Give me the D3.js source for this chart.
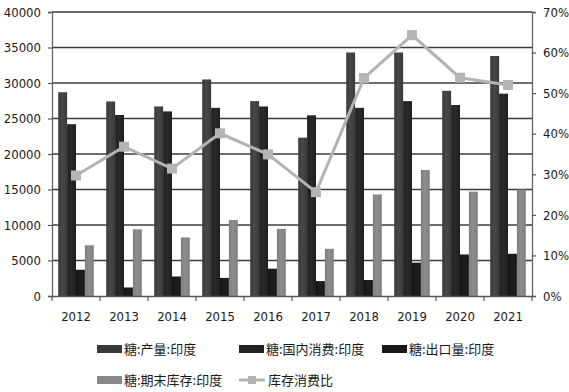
<!DOCTYPE html>
<html><head><meta charset="utf-8">
<script src="https://cdn.jsdelivr.net/npm/d3@7"></script>
<style>
html,body{margin:0;padding:0;background:#fff;}
svg{display:block;}
</style></head>
<body>
<svg id="c" width="569" height="392"></svg>
<script>
const years = ["2012","2013","2014","2015","2016","2017","2018","2019","2020","2021"];
const production = [28700,27400,26700,30500,27450,22300,34300,34300,28900,33800];
const domestic   = [24200,25500,26000,26500,26700,25450,26500,27450,26900,28500];
const exportsV   = [3700,1200,2750,2550,3850,2100,2250,4700,5850,5950];
const stocks     = [7150,9400,8250,10700,9450,6650,14300,17750,14700,15000];
const ratio      = [0.297,0.368,0.314,0.401,0.349,0.256,0.537,0.643,0.538,0.520];
const leftTicks  = [0,5000,10000,15000,20000,25000,30000,35000,40000];
const rightTicks = [0,0.1,0.2,0.3,0.4,0.5,0.6,0.7];
const seriesNames = ["糖:产量:印度","糖:国内消费:印度","糖:出口量:印度","糖:期末库存:印度","库存消费比"];

const svg = d3.select("#c");
const L = 52, R = 532, T = 12, B = 296;
const numFont = "'DejaVu Sans Condensed','Liberation Sans Narrow',sans-serif";
const cjkFont = "'Noto Sans CJK SC',sans-serif";

const defs = svg.append("defs");
function grad(id, c1, c2){
  const g = defs.append("linearGradient").attr("id",id).attr("x1","0").attr("x2","1").attr("y1","0").attr("y2","0");
  g.append("stop").attr("offset","0").attr("stop-color",c1);
  g.append("stop").attr("offset","0.45").attr("stop-color",c2);
  g.append("stop").attr("offset","1").attr("stop-color",c1);
}
grad("gP","#3a3a3a","#474747");
grad("gD","#1e1e1e","#2a2a2a");
grad("gE","#151515","#1f1f1f");
grad("gS","#7e7e7e","#8e8e8e");

const x = d3.scaleBand().domain(years).range([L,R]);
const x1 = d3.scaleBand().domain([0,1,2,3]).range([0, x.bandwidth()]).paddingOuter(0.7);
const y = d3.scaleLinear().domain([0,40000]).range([B,T]);
const y2 = d3.scaleLinear().domain([0,0.7]).range([B,T]);

// gridlines
svg.append("g").selectAll("line").data(leftTicks.filter(d=>d>0)).join("line")
  .attr("x1",L).attr("x2",R).attr("y1",d=>y(d)).attr("y2",d=>y(d))
  .attr("stroke","#3c3c3c").attr("stroke-width",1.3);

// bars
const series = [production, domestic, exportsV, stocks];
const fills = ["url(#gP)","url(#gD)","url(#gE)","url(#gS)"];
series.forEach((arr,si)=>{
  svg.append("g").selectAll("rect").data(arr).join("rect")
    .attr("x",(d,i)=>x(years[i])+x1(si))
    .attr("width",x1.bandwidth())
    .attr("y",d=>y(d))
    .attr("height",d=>B-y(d))
    .attr("fill",fills[si]);
});

// axes
const axL = svg.append("g").attr("transform",`translate(${L},0)`)
  .call(d3.axisLeft(y).tickValues(leftTicks).tickFormat(d3.format("d")).tickSize(4).tickPadding(7));
const axR = svg.append("g").attr("transform",`translate(${R},0)`)
  .call(d3.axisRight(y2).tickValues(rightTicks).tickFormat(d3.format(".0%")).tickSize(4).tickPadding(7));
const axB = svg.append("g").attr("transform",`translate(0,${B})`)
  .call(d3.axisBottom(x).tickSize(0).tickPadding(16));
// category boundary ticks
svg.append("g").selectAll("line").data(d3.range(years.length+1)).join("line")
  .attr("x1",i=>L+i*x.step()).attr("x2",i=>L+i*x.step())
  .attr("y1",B).attr("y2",B+5).attr("stroke","#555").attr("stroke-width",1.2);
[axL,axR,axB].forEach(a=>{
  a.selectAll(".domain").attr("stroke","#666").attr("stroke-width",1.3);
  a.selectAll(".tick line").attr("stroke","#555").attr("stroke-width",1.2);
  a.selectAll("text").attr("font-family",numFont).attr("font-size",13).attr("fill","#1a1a1a");
});
axB.select(".domain").attr("stroke","#555");

// line
const line = d3.line().x((d,i)=>x(years[i])+x.bandwidth()/2).y(d=>y2(d));
svg.append("path").datum(ratio).attr("d",line).attr("fill","none")
  .attr("stroke","#b3b3b3").attr("stroke-width",3);
svg.append("g").selectAll("rect").data(ratio).join("rect")
  .attr("x",(d,i)=>x(years[i])+x.bandwidth()/2-5).attr("y",d=>y2(d)-5)
  .attr("width",10).attr("height",10).attr("fill","#b5b5b5");

// legend
const legendItems = [
  {name:seriesNames[0], fill:"#3a3a3a", type:"bar", x:97, y:349},
  {name:seriesNames[1], fill:"#222", type:"bar", x:239, y:349},
  {name:seriesNames[2], fill:"#181818", type:"bar", x:382, y:349},
  {name:seriesNames[3], fill:"#888", type:"bar", x:97, y:380},
  {name:seriesNames[4], fill:"#b3b3b3", type:"line", x:239, y:380}
];
const lg = svg.append("g");
legendItems.forEach(it=>{
  if(it.type==="bar"){
    lg.append("rect").attr("x",it.x).attr("y",it.y-4).attr("width",25).attr("height",8).attr("fill",it.fill);
  } else {
    lg.append("line").attr("x1",it.x).attr("x2",it.x+26).attr("y1",it.y).attr("y2",it.y).attr("stroke",it.fill).attr("stroke-width",3);
    lg.append("rect").attr("x",it.x+9).attr("y",it.y-4).attr("width",8).attr("height",8).attr("fill",it.fill);
  }
  lg.append("text").attr("x",it.x+(it.type==="bar"?27:29)).attr("y",it.y).attr("dy","0.36em")
    .attr("font-family",cjkFont).attr("font-size",13).attr("fill","#1a1a1a").text(it.name);
});
</script>
</body></html>
